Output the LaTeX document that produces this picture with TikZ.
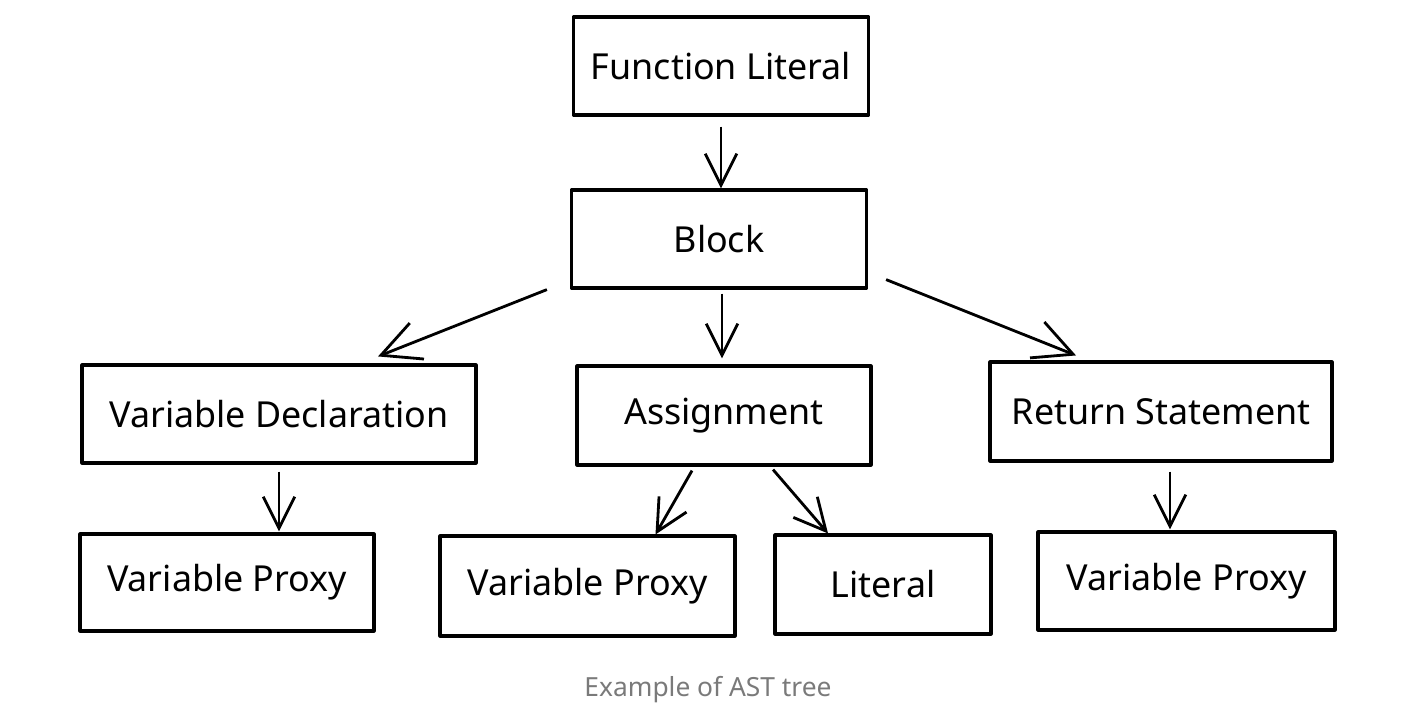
\documentclass[tikz,border=0pt]{standalone}
\usepackage{fontspec}
\setmainfont{Noto Sans}
\usetikzlibrary{arrows.meta}
\definecolor{capgray}{HTML}{7A7A7A}
\tikzset{
  box/.style={draw, line width=0.9pt, inner sep=0pt, minimum height=0.98cm,
              font=\fontsize{10.2}{12}\selectfont},
  arr/.style={line width=0.8pt, -{Straight Barb[length=9pt,width=9pt,line width=0.8pt]}},
  bigarr/.style={arr, -{Straight Barb[length=11pt,width=11pt,line width=0.8pt]}},
}
\begin{document}
\begin{tikzpicture}[line join=round]
  \useasboundingbox (0,0) rectangle (14.24,-7.18);
  % tree nodes
  \node[box, minimum width=2.95cm] (FL) at (7.21,-0.66) {Function Literal};
  \node[box, minimum width=2.95cm] (Block) at (7.19,-2.39) {Block};
  \node[box, minimum width=3.94cm] (VarDecl) at (2.79,-4.14) {Variable Declaration};
  \node[box, minimum width=2.94cm, minimum height=0.99cm] (Assign) at (7.24,-4.155) {Assignment};
  \node[box, minimum width=3.42cm, minimum height=0.99cm] (Return) at (11.61,-4.115) {Return Statement};
  \node[box, minimum width=2.94cm, minimum height=0.97cm] (Proxy1) at (2.27,-5.825) {Variable Proxy};
  \node[box, minimum width=2.95cm, minimum height=1.0cm] (Proxy2) at (5.875,-5.86) {Variable Proxy};
  \node[box, minimum width=2.16cm, minimum height=0.99cm] (Lit) at (8.83,-5.845) {Literal};
  \node[box, minimum width=2.97cm] (Proxy3) at (11.865,-5.81) {Variable Proxy};
  % edges
  \draw[arr, shorten <=0.1cm] (FL.south) -- (FL.south |- Block.north);
  \draw[bigarr] ([xshift=-0.23cm]Block.south west) -- ([xshift=0.99cm,yshift=0.07cm]VarDecl.north);
  \draw[arr, shorten <=0.04cm, shorten >=0.06cm] ([xshift=0.03cm]Block.south) -- ([xshift=0.03cm]Block.south |- Assign.north);
  \draw[bigarr] ([xshift=0.18cm,yshift=0.1cm]Block.south east) -- ([xshift=-0.85cm,yshift=0.05cm]Return.north);
  \draw[arr, shorten <=0.07cm, shorten >=0.01cm] (VarDecl.south) -- (VarDecl.south |- Proxy1.north);
  \draw[arr] ([xshift=-0.32cm,yshift=-0.04cm]Assign.south) -- ([xshift=0.68cm]Proxy2.north);
  \draw[arr] ([xshift=0.49cm,yshift=-0.03cm]Assign.south) -- ([xshift=-0.55cm]Lit.north);
  \draw[arr, shorten <=0.09cm, shorten >=0.01cm] ([xshift=0.09cm]Return.south) -- ([xshift=0.09cm]Return.south |- Proxy3.north);
  % caption
  \node[text=capgray, font=\fontsize{7.5}{9}\selectfont] (cap) at (7.08,-6.90) {Example of AST tree};
\end{tikzpicture}
\end{document}
